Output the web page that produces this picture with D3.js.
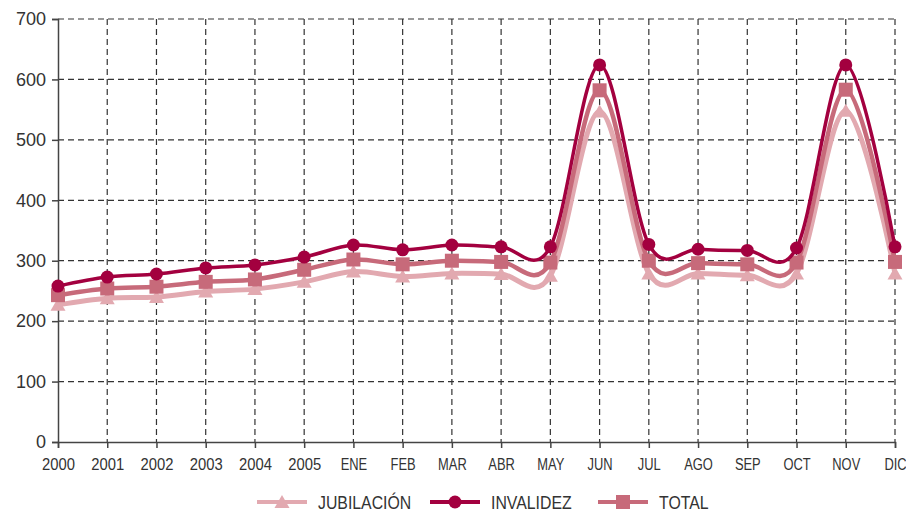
<!DOCTYPE html>
<html><head><meta charset="utf-8">
<script src="https://cdn.jsdelivr.net/npm/d3@7/dist/d3.min.js"></script>
<style>body{margin:0;background:#fff}svg{display:block}</style>
</head><body><svg id="c" width="906" height="515"></svg>
<script>
const categories = ["2000","2001","2002","2003","2004","2005","ENE","FEB","MAR","ABR","MAY","JUN","JUL","AGO","SEP","OCT","NOV","DIC"];
const jubilacion = [227,238,240,249,253,265,282,274,279,278,275,547,279,279,276,279,548,279];
const invalidez  = [258,273,278,288,293,306,326,318,326,323,323,624,327,319,317,321,624,323];
const total      = [243,254,257,265,269,285,302,294,300,298,297,582,300,296,294,297,583,298];
const yTicks = [0,100,200,300,400,500,600,700];

const series = [
  {name:"JUBILACIÓN", values:jubilacion, color:"#e2a9b0", width:5, marker:"triangle"},
  {name:"TOTAL", values:total, color:"#c76a7a", width:4.5, marker:"square"},
  {name:"INVALIDEZ", values:invalidez, color:"#a3003f", width:3.5, marker:"circle"}
];

const FONT = "Liberation Sans, Arial, sans-serif";
const svg = d3.select("#c");
const L = 58, R = 895, T = 19, B = 442;
const x = d3.scalePoint().domain(categories).range([L, R]);
const y = d3.scaleLinear().domain([0,700]).range([B, T]);

const grid = svg.append("g").attr("stroke","#333").attr("stroke-width",1.2).attr("stroke-dasharray","6,4");
yTicks.filter(d=>d>0).forEach(v=>{
  grid.append("line").attr("x1",L).attr("x2",R).attr("y1",y(v)).attr("y2",y(v));
});
categories.slice(1).forEach(c=>{
  grid.append("line").attr("x1",x(c)).attr("x2",x(c)).attr("y1",T).attr("y2",B);
});

const yAxis = svg.append("g").attr("transform",`translate(${L},0)`)
  .call(d3.axisLeft(y).tickValues(yTicks).tickSize(6).tickPadding(6).tickFormat(d3.format("d")));
yAxis.select(".domain").attr("stroke","#444").attr("stroke-width",1.5);
yAxis.selectAll(".tick line").attr("stroke","#444").attr("stroke-width",1.5);
yAxis.selectAll("text").attr("font-family",FONT).attr("font-size",18).attr("fill","#333");

const xAxis = svg.append("g").attr("transform",`translate(0,${B})`)
  .call(d3.axisBottom(x).tickSize(6).tickPadding(10));
xAxis.select(".domain").attr("stroke","#444").attr("stroke-width",1.5);
xAxis.selectAll(".tick line").attr("stroke","#444").attr("stroke-width",1.5);
xAxis.selectAll("text").attr("font-family",FONT).attr("font-size",17).attr("fill","#333")
  .attr("transform",d=>/^\d+$/.test(d)?"scale(0.87,1)":"scale(0.76,1)");

const line = d3.line().x((d,i)=>x(categories[i])).y(d=>y(d)).curve(d3.curveCardinal.tension(0));

function drawMarker(g, type, cx, cy, color){
  if(type==="circle") g.append("circle").attr("cx",cx).attr("cy",cy).attr("r",6.5).attr("fill",color);
  else if(type==="square") g.append("rect").attr("x",cx-7).attr("y",cy-7).attr("width",14).attr("height",14).attr("fill",color);
  else g.append("path").attr("d",`M${cx},${cy-7}L${cx+7.5},${cy+6}L${cx-7.5},${cy+6}Z`).attr("fill",color);
}

series.forEach(s=>{
  const g = svg.append("g");
  g.append("path").attr("d",line(s.values)).attr("fill","none").attr("stroke",s.color).attr("stroke-width",s.width);
  s.values.forEach((v,i)=>drawMarker(g,s.marker,x(categories[i]),y(v),s.color));
});

// legend
const legendOrder = [series[0], series[2], series[1]];
const lx = [257, 430, 598];
const ly = 502;
legendOrder.forEach((s,i)=>{
  const g = svg.append("g");
  g.append("line").attr("x1",lx[i]).attr("x2",lx[i]+50).attr("y1",ly).attr("y2",ly).attr("stroke",s.color).attr("stroke-width",4);
  drawMarker(g,s.marker,lx[i]+25,ly,s.color);
  g.append("text").attr("transform",`translate(${lx[i]+61},${ly+6.5}) scale(0.88,1)`).text(s.name)
    .attr("font-family",FONT).attr("font-size",18).attr("fill","#333");
});
</script></body></html>
